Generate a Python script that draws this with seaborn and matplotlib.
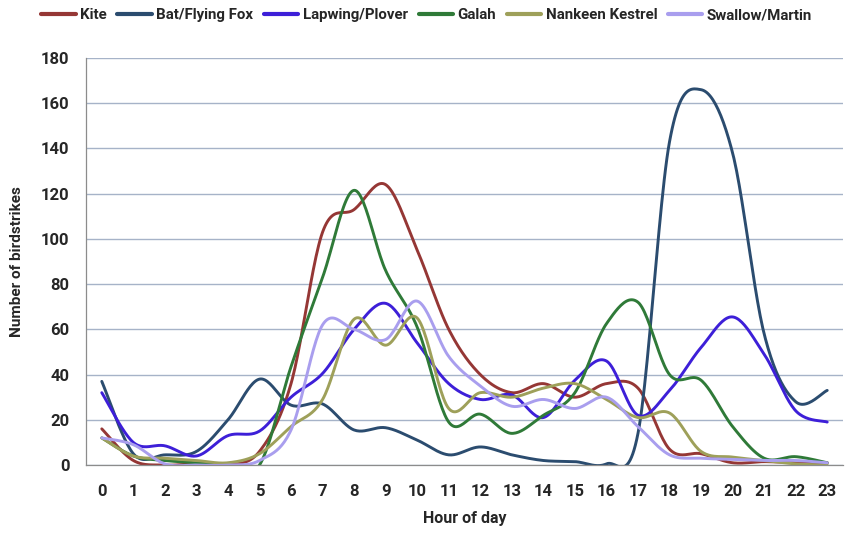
import matplotlib

matplotlib.use("Agg")

import matplotlib.pyplot as plt
import numpy as np
import pandas as pd
import seaborn as sns

hours = list(range(24))

kite = [16, 2, 0, 0.5, 0, 6, 36, 103, 113, 124, 95, 60, 40, 32, 36, 30, 36, 34, 7, 5, 1, 1.5, 1, 1]
bat = [37, 5, 4.5, 6, 20, 38, 26.5, 27, 15.5, 16.5, 11, 4.5, 8, 4.5, 2, 1.5, 0.5, 14, 143, 166, 138, 58, 28, 33]
lapwing = [32, 10, 8.5, 4, 13, 15, 30, 40.5, 60, 71.5, 54, 36, 29, 31, 21, 37.5, 46, 22, 33, 52, 65.5, 49, 24, 19]
galah = [12, 4, 2, 1, 0, 0, 43.5, 83, 121.5, 86, 61, 19, 22.5, 14, 22, 32, 62.5, 72, 40, 37.5, 17, 3, 3.7, 1]
kestrel = [12, 4, 3, 2, 1, 5, 17, 29, 64.5, 53, 65, 25, 32, 30, 34, 36, 29, 21, 23, 6, 3.5, 2, 0.5, 0]
swallow = [12, 9, 0.5, 0, 0, 2, 15.5, 62, 60, 55.5, 72.5, 48, 35, 26, 29, 25, 30, 17, 4.5, 3, 2.5, 2, 2, 1]

series_names = ["Kite", "Bat/Flying Fox", "Lapwing/Plover", "Galah", "Nankeen Kestrel", "Swallow/Martin"]
series_values = [kite, bat, lapwing, galah, kestrel, swallow]
colours = ["#953735", "#2B4C6F", "#3D1FD8", "#2F7A38", "#9EA05A", "#A99EEE"]

y_ticks = list(range(0, 181, 20))


def smooth(x, y, steps=24):
    # Excel-style smoothed line: cubic Bezier segments with Catmull-Rom handles
    x = np.asarray(x, dtype=float)
    y = np.asarray(y, dtype=float)
    px = np.concatenate([[x[0]], x, [x[-1]]])
    py = np.concatenate([[y[0]], y, [y[-1]]])
    xs, ys = [], []
    t = np.linspace(0, 1, steps, endpoint=False)
    for i in range(1, len(px) - 2):
        p0 = np.array([px[i], py[i]])
        p3 = np.array([px[i + 1], py[i + 1]])
        c1 = p0 + (p3 - np.array([px[i - 1], py[i - 1]])) / 6
        c2 = p3 - (np.array([px[i + 2], py[i + 2]]) - p0) / 6
        b = ((1 - t) ** 3)[:, None] * p0 + (3 * (1 - t) ** 2 * t)[:, None] * c1 \
            + (3 * (1 - t) * t ** 2)[:, None] * c2 + (t ** 3)[:, None] * p3
        xs.extend(b[:, 0])
        ys.extend(b[:, 1])
    xs.append(x[-1])
    ys.append(y[-1])
    return xs, ys


frames = []
for name, values in zip(series_names, series_values):
    sx, sy = smooth(hours, values)
    frames.append(pd.DataFrame({"hour": sx, "count": sy, "species": name}))
data = pd.concat(frames, ignore_index=True)

sns.set_theme(style="white")
plt.rcParams["font.family"] = ["Roboto", "DejaVu Sans"]

fig = plt.figure(figsize=(8.61, 5.43), dpi=100)
ax = fig.add_axes([0.0999, 0.1436, 0.8792, 0.7495])

sns.lineplot(
    data=data, x="hour", y="count", hue="species", hue_order=series_names,
    palette=colours, sort=False, estimator=None, linewidth=2.1, ax=ax,
)

ax.set_xlim(-0.5, 23.5)
ax.set_ylim(0, 180)
ax.set_yticks(y_ticks)
ax.set_xticks(hours)
ax.set_xticks(np.arange(-0.5, 24, 1), minor=True)
ax.tick_params(axis="x", which="major", length=0, pad=14, labelsize=12)
ax.tick_params(axis="x", which="minor", length=6, color="#808080", width=0.8, direction="out")
ax.tick_params(axis="y", length=6, color="#808080", width=0.8, direction="out", labelsize=12, pad=6)
for lab in ax.get_xticklabels() + ax.get_yticklabels():
    lab.set_fontweight("bold")

ax.yaxis.grid(True, color="#A6B3C8", linewidth=1.0)
ax.set_axisbelow(True)
for side in ["top", "right"]:
    ax.spines[side].set_visible(False)
for side in ["left", "bottom"]:
    ax.spines[side].set_color("#8C8C8C")
    ax.spines[side].set_linewidth(0.9)

ax.set_xlabel("Hour of day", fontsize=11.5, fontweight="bold", labelpad=8)
ax.set_ylabel("Number of birdstrikes", fontsize=11, fontweight="bold", labelpad=12)

sns.move_legend(
    ax, "center", bbox_to_anchor=(0.45, 1.105), bbox_transform=ax.transAxes, ncol=6,
    frameon=False, title=None, fontsize=10.8, handlelength=2.3, handletextpad=0.3, columnspacing=0.7,
)
for txt in ax.get_legend().get_texts():
    txt.set_fontweight("bold")
for line in ax.get_legend().get_lines():
    line.set_linewidth(3)

fig.savefig("out.png", dpi=100)
